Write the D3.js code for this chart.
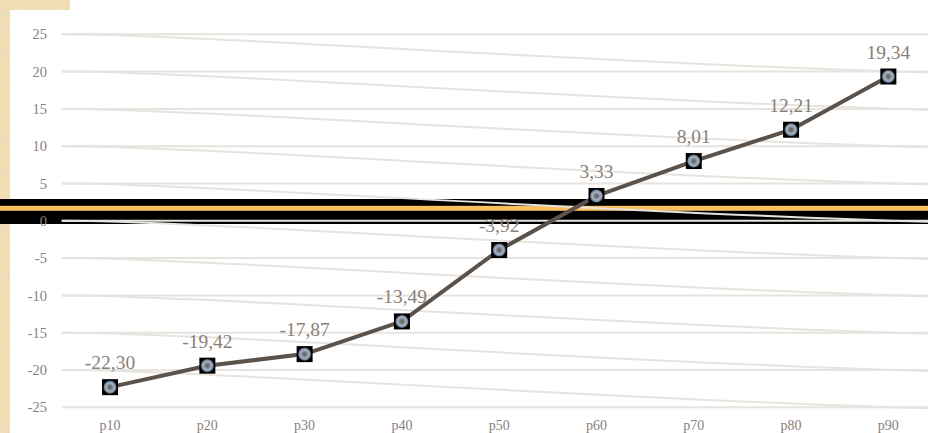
<!DOCTYPE html>
<html>
<head>
<meta charset="utf-8">
<script src="https://cdn.jsdelivr.net/npm/d3@7"></script>
<style>
  html, body { margin: 0; padding: 0; background: #fff; }
  svg { display: block; }
  text { font-family: "Liberation Serif", "Times New Roman", serif; }
</style>
</head>
<body>
<svg id="chart" width="928" height="433"></svg>
<script>
// Percentile labels and their values
const categories = ["p10", "p20", "p30", "p40", "p50", "p60", "p70", "p80", "p90"];
const values = [-22.30, -19.42, -17.87, -13.49, -3.92, 3.33, 8.01, 12.21, 19.34];
const yTicks = [25, 20, 15, 10, 5, 0, -5, -10, -15, -20, -25];

const W = 928, H = 433;
const FONT = "'Liberation Serif', 'Times New Roman', serif";
const svg = d3.select("#chart");
const defs = svg.append("defs");

// Parchment texture for the frame strip
const paper = defs.append("filter").attr("id", "paper")
  .attr("x", 0).attr("y", 0).attr("width", "100%").attr("height", "100%");
paper.append("feTurbulence").attr("type", "fractalNoise")
  .attr("baseFrequency", "0.09 0.14").attr("numOctaves", 3).attr("seed", 7).attr("result", "noise");
paper.append("feColorMatrix").attr("in", "noise").attr("type", "matrix")
  .attr("values", "0 0 0 0 0.84  0 0 0 0 0.71  0 0 0 0 0.47  3 0 0 0 -1.25").attr("result", "spots");
paper.append("feComposite").attr("in", "spots").attr("in2", "SourceGraphic").attr("operator", "in");

// Marker fill: bluish ring with a dark core
const rg = defs.append("radialGradient").attr("id", "dot");
rg.append("stop").attr("offset", "0%").attr("stop-color", "#6a5f57");
rg.append("stop").attr("offset", "30%").attr("stop-color", "#7a777c");
rg.append("stop").attr("offset", "58%").attr("stop-color", "#a5b4c4");
rg.append("stop").attr("offset", "82%").attr("stop-color", "#7a8ea6");
rg.append("stop").attr("offset", "100%").attr("stop-color", "#1a1d22");

// Frame: parchment strip on the left and top-left corner
const frame = svg.append("g");
[[0, 0, 10, H], [0, 0, 70, 10]].forEach(([x, y, w, h]) => {
  frame.append("rect").attr("x", x).attr("y", y).attr("width", w).attr("height", h).attr("fill", "#f1dfb4");
  frame.append("rect").attr("x", x).attr("y", y).attr("width", w).attr("height", h)
    .attr("fill", "#f1dfb4").attr("filter", "url(#paper)");
});

// Scales
const x = d3.scaleBand().domain(categories).range([61.4, 937]).padding(0);
const y = d3.scaleLinear().domain([-25, 25]).range([407.3, 34.3]);
const cx = d => x(d) + x.bandwidth() / 2;

// Dark decorative band with a golden stripe
svg.append("rect").attr("x", 0).attr("y", 199).attr("width", W).attr("height", 25).attr("fill", "#000");
svg.append("rect").attr("x", 0).attr("y", 205.8).attr("width", W).attr("height", 5).attr("fill", "#f9bf60");

// Grid lines plus their sloping companions
const grid = svg.append("g").attr("stroke", "#e7e3de").attr("stroke-width", 2).attr("fill", "none");
yTicks.forEach((t, i) => {
  grid.append("line").attr("x1", 61.7).attr("x2", W).attr("y1", y(t)).attr("y2", y(t));
  if (i < yTicks.length - 1) {
    grid.append("path")
      .attr("d", `M61.7,${y(t)} C200,${y(t)} 600,${y(yTicks[i + 1]) - 8} ${W},${y(yTicks[i + 1]) + 1}`);
  }
});

// Y axis labels
const yAxis = d3.axisLeft(y).tickValues(yTicks).tickSize(0).tickPadding(0).tickFormat(d => String(d));
const yg = svg.append("g").attr("transform", "translate(47,0)").call(yAxis).attr("font-family", FONT);
yg.select(".domain").remove();
yg.selectAll("text").attr("font-size", 14.5).attr("fill", "#8a8078");

// X axis labels
const xAxis = d3.axisBottom(x).tickSize(0).tickPadding(0);
const xg = svg.append("g").attr("transform", "translate(0,420)").call(xAxis).attr("font-family", FONT);
xg.select(".domain").remove();
xg.selectAll("text").attr("font-size", 14).attr("fill", "#8a8078");

// Series line
const line = d3.line().x((d, i) => cx(categories[i])).y(d => y(d));
svg.append("path").datum(values).attr("d", line)
  .attr("fill", "none").attr("stroke", "#5b534b").attr("stroke-width", 4).attr("stroke-linejoin", "round");

// Markers
const m = svg.append("g").selectAll("g").data(values).join("g")
  .attr("transform", (d, i) => `translate(${cx(categories[i])},${y(d)})`);
m.append("rect").attr("x", -8).attr("y", -8).attr("width", 16).attr("height", 16).attr("fill", "#000");
m.append("circle").attr("r", 6.8).attr("fill", "url(#dot)");

// Value labels
const fmt = v => d3.format(".2f")(v).replace(".", ",").replace("−", "-");
svg.append("g").selectAll("text").data(values).join("text")
  .attr("x", (d, i) => cx(categories[i]))
  .attr("y", d => y(d) - 18)
  .attr("text-anchor", "middle")
  .attr("font-family", FONT).attr("font-size", 19.5)
  .attr("fill", "#8a8078")
  .text(fmt);
</script>
</body>
</html>
